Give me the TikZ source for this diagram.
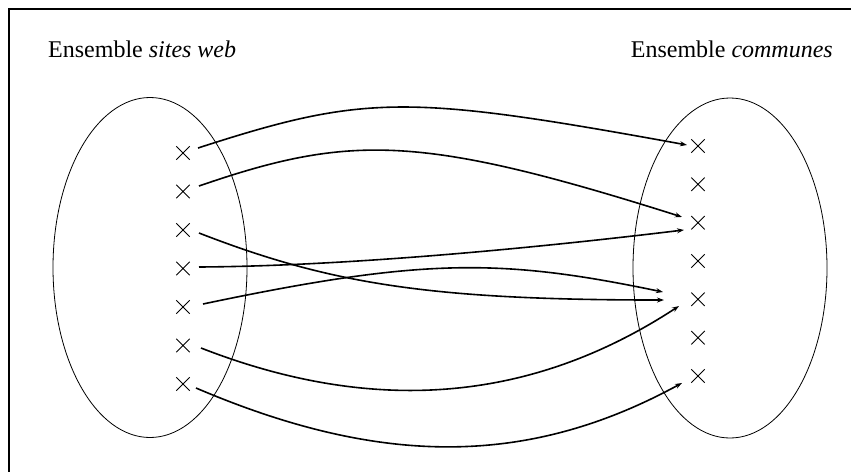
\documentclass[tikz,border=0pt]{standalone}
\usepackage{fontspec}
\setmainfont{Liberation Serif}
\usetikzlibrary{shapes.geometric,shapes.misc,arrows.meta,calc}
\tikzset{
  setell/.style={draw, ellipse, line width=0.8pt, minimum width=194pt, minimum height=340pt, inner sep=0pt},
  pt/.style={draw, cross out, line width=0.9pt, minimum size=12.5pt, inner sep=0pt},
  lab/.style={font=\fontsize{24pt}{28pt}\selectfont, inner sep=0pt},
  link/.style={line width=1.6pt, -{Stealth[length=7pt,width=5pt]}},
}
\begin{document}
\begin{tikzpicture}[x=1pt,y=-1pt]
\useasboundingbox (0,0) rectangle (851,471);
\draw[line width=1.6pt] (9,475) -- (9,9) -- (855,9);
\node[lab, anchor=base west] (t1) at (48,57) {Ensemble \textit{sites web}};
\node[lab, anchor=base east] (t2) at (833,57) {Ensemble \textit{communes}};
\node[setell] (E1) at (150,267.5) {};
\node[setell] (E2) at (730,268) {};
\foreach \i in {1,...,7} {
  \node[pt] (l\i) at (183,{153+38.5*(\i-1)}) {};
  \node[pt] (r\i) at (698,{146+38.33*(\i-1)}) {};
}
\draw[link] ($(l1)+(15,-5)$) .. controls (365,94) and (407,94) .. ($(r1)+(-11,-1)$);
\draw[link] ($(l2)+(16,-5.5)$) .. controls (350,134) and (420,134) .. ($(r3)+(-16,-5.7)$);
\draw[link] ($(l3)+(16,3)$) .. controls (330,284) and (430,300) .. ($(r5)+(-34,0.7)$);
\draw[link] ($(l4)+(16,-1.5)$) .. controls (360,266) and (560,245) .. ($(r3)+(-14,7.3)$);
\draw[link] ($(l5)+(20,-3)$) .. controls (422,258) and (500,258) .. ($(r5)+(-35,-7.3)$);
\draw[link] ($(l6)+(18,2.5)$) .. controls (360,410) and (520,410) .. ($(r5)+(-19,6.7)$);
\draw[link] ($(l7)+(13,4)$) .. controls (381,467) and (528,467) .. ($(r7)+(-16,7)$);
\end{tikzpicture}
\end{document}
